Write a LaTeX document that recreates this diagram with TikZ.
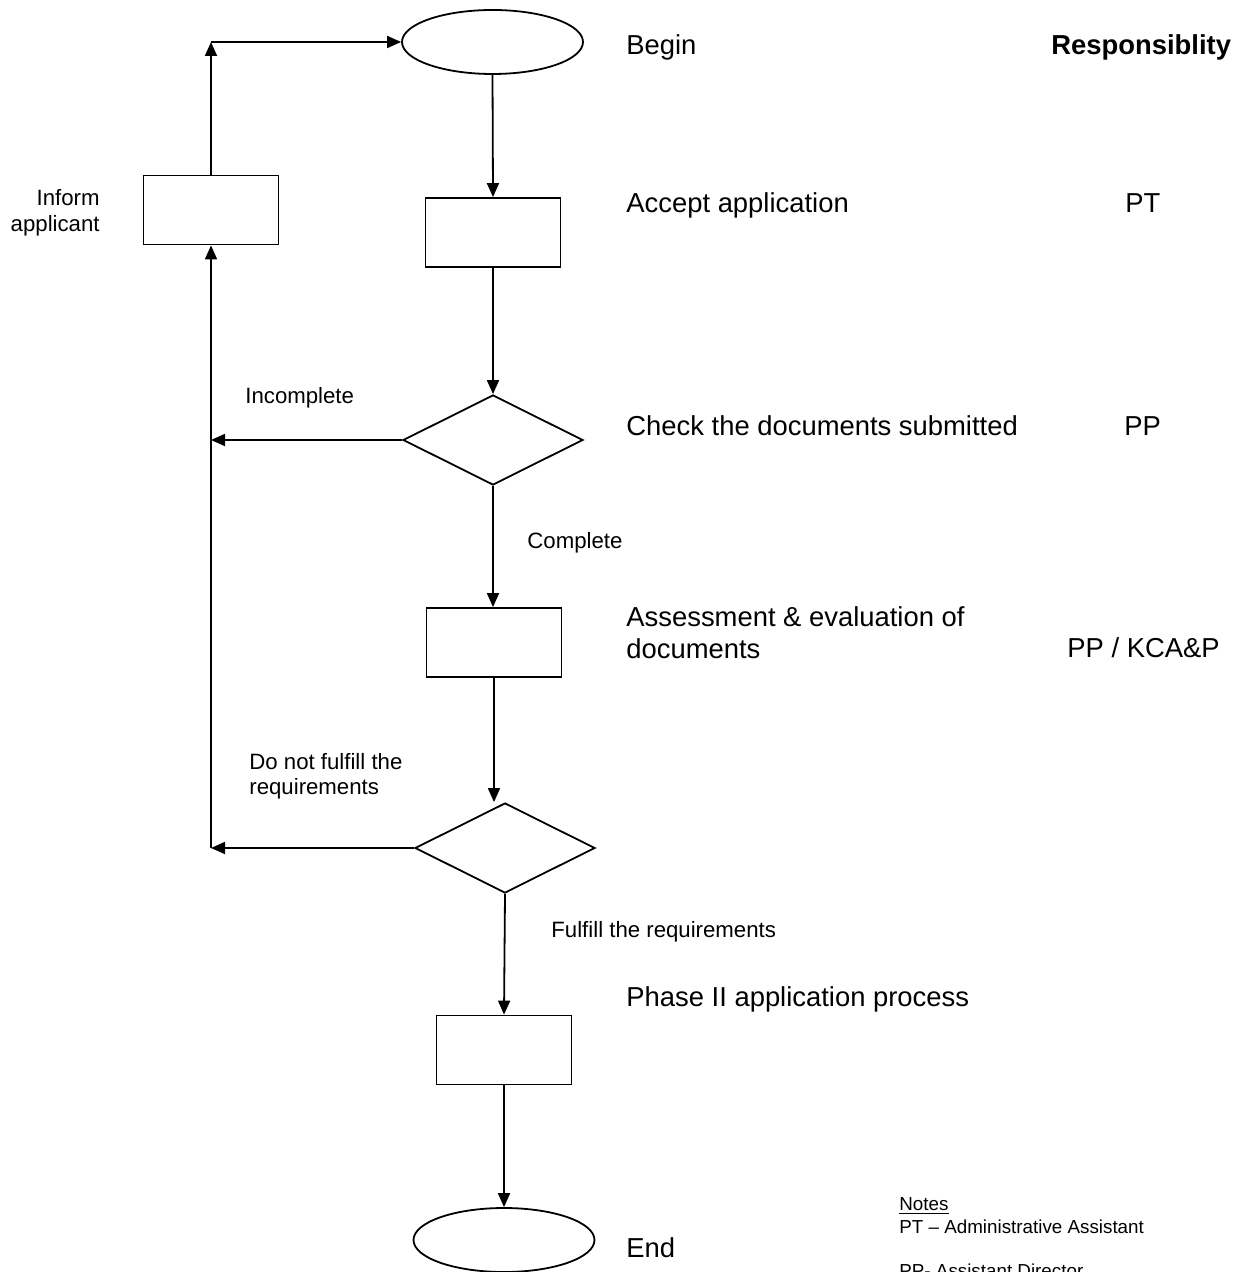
\documentclass[tikz,border=0pt]{standalone}
\usepackage{fontspec}
\setmainfont{Liberation Sans}
\usetikzlibrary{shapes.geometric,arrows.meta}
\tikzset{
  flow/.style={draw=black,line width=0.9pt,fill=white,inner sep=0pt},
  boxnode/.style={flow,rectangle,minimum width=67.5pt,minimum height=34.5pt},
  termnode/.style={flow,ellipse,minimum width=90.5pt,minimum height=32pt},
  decnode/.style={flow,diamond,minimum width=90pt,minimum height=45pt},
  conn/.style={line width=0.9pt,-{Triangle[length=7pt,width=6pt]}},
  maintxt/.style={inner sep=0pt,anchor=base west,font=\fontsize{13.7}{16}\selectfont},
  lbltxt/.style={inner sep=0pt,anchor=base west,font=\fontsize{11.1}{13}\selectfont},
  notetxt/.style={inner sep=0pt,anchor=base west,font=\fontsize{9.4}{12}\selectfont},
}
\begin{document}
\begin{tikzpicture}[x=0.5pt,y=-0.5pt]
\useasboundingbox (0,0) rectangle (1236,1272);
% shapes
\node[termnode] (begin) at (492.5,42) {};
\node[boxnode] (accept) at (493,232.5) {};
\node[decnode] (d1) at (493,440) {};
\node[boxnode] (assess) at (494,642.5) {};
\node[decnode] (d2) at (505,848) {};
\node[boxnode] (phase) at (504,1050) {};
\node[termnode] (end) at (504,1240) {};
\node[boxnode] (inform) at (211,210) {};
% helper coordinates
\coordinate (topcorner) at (inform.north |- begin.west);
\coordinate (j1) at (inform.south |- d1.west);
\coordinate (j2) at (inform.south |- d2.west);
\coordinate (d2in) at (assess.south |- d2.north);
% connectors
\draw[conn] (begin.south) -- (accept.north);
\draw[conn] (accept.south) -- (d1.north);
\draw[conn] (d1.south) -- (d1.south |- assess.north);
\draw[conn] (assess.south) -- (d2in);
\draw[conn] (d2.south) -- (phase.north);
\draw[conn] (phase.south) -- (end.north);
\draw[conn] (d1.west) -- (j1);
\draw[conn] (d2.west) -- (j2);
\draw[conn] (j2) -- (inform.south);
\draw[conn] (inform.north) -- (topcorner);
\draw[conn] (topcorner) -- (begin.west);
% step texts
\node[maintxt] (tbegin) at (626,55) {Begin};
\node[maintxt] (taccept) at (626,213) {Accept application};
\node[maintxt] (tcheck) at (626,436) {Check the documents submitted};
\node[maintxt] (tassess1) at (626,626) {Assessment \& evaluation of};
\node[maintxt] (tassess2) at (626,658) {documents};
\node[maintxt] (tphase) at (626,1006) {Phase II application process};
\node[maintxt] (tend) at (626,1257) {End};
% responsibility column
\node[maintxt,font=\fontsize{13.7}{16}\selectfont\bfseries] (resp) at (1051,55) {Responsiblity};
\node[maintxt] (rpt) at (1125,213) {PT};
\node[maintxt] (rpp) at (1124,436) {PP};
\node[maintxt] (rkca) at (1067,657) {PP / KCA\&P};
% connector labels
\node[lbltxt,anchor=base east] (linf1) at (100,206) {Inform};
\node[lbltxt,anchor=base east] (linf2) at (100,232) {applicant};
\node[lbltxt] (lincomp) at (245,403) {Incomplete};
\node[lbltxt] (lcomp) at (527,548) {Complete};
\node[lbltxt] (lnot1) at (249,769) {Do not fulfill the};
\node[lbltxt] (lnot2) at (249,794) {requirements};
\node[lbltxt] (lful) at (551,937) {Fulfill the requirements};
% notes
\node[notetxt] (nhead) at (899,1210) {\underline{Notes}};
\node[notetxt] (npt) at (899,1233) {PT – Administrative Assistant};
\node[notetxt] (npp) at (899,1277) {PP- Assistant Director};
\end{tikzpicture}
\end{document}
